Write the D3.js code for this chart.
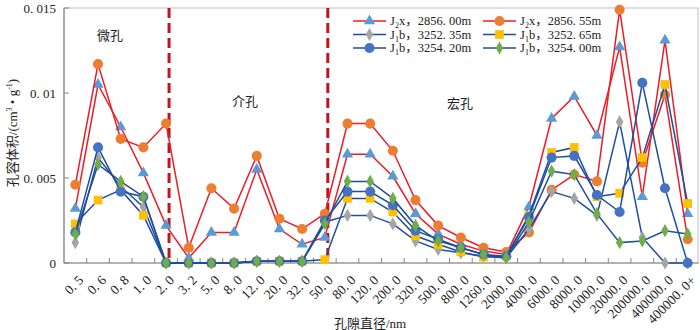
<!DOCTYPE html>
<html>
<head>
<meta charset="utf-8">
<script src="https://cdn.jsdelivr.net/npm/d3@7"></script>
<style>
  body { margin: 0; background: #fff; }
  svg text { font-family: "Liberation Serif", "Noto Sans CJK SC", serif; fill: #222; }
</style>
</head>
<body>
<div id="chart"></div>
<script>
// pore size classes (nm)
var categories = ["0.5", "0.6", "0.8", "1.0", "2.0", "3.2", "5.0", "8.0", "12.0", "20.0",
  "32.0", "50.0", "80.0", "120.0", "200.0", "320.0", "500.0", "800.0", "1260.0", "2000.0",
  "4000.0", "6000.0", "8000.0", "10000.0", "20000.0", "200000.0", "400000.0", "400000.0+"];

// pore volume, cm3/g
var j2x_285600 = [0.0032, 0.0105, 0.0080, 0.0053, 0.0022, 0.0003, 0.0018, 0.0018, 0.0055, 0.0020,
  0.0011, 0.0015, 0.0064, 0.0064, 0.0051, 0.0029, 0.0017, 0.0011, 0.0007, 0.0005,
  0.0033, 0.0085, 0.0098, 0.0075, 0.0127, 0.0039, 0.0131, 0.0029];
var j2x_285655 = [0.0046, 0.0117, 0.0073, 0.0068, 0.0082, 0.0009, 0.0044, 0.0032, 0.0063, 0.0026,
  0.0020, 0.0029, 0.0082, 0.0082, 0.0066, 0.0037, 0.0022, 0.0015, 0.0009, 0.00065,
  0.0018, 0.0043, 0.0052, 0.0048, 0.0149, 0.0059, 0.0099, 0.0014];
var j1b_325235 = [0.0012, 0.0062, 0.0045, 0.0033, 0, 0, 0, 0, 0.0001, 0.0001,
  0.0001, 0.0024, 0.0028, 0.0028, 0.0023, 0.0013, 0.0008, 0.0006, 0.0004, 0.0003,
  0.0020, 0.0042, 0.0038, 0.0028, 0.0083, 0.0015, 0, 0];
var j1b_325265 = [0.0023, 0.0037, 0.0043, 0.0028, 0, 0, 0, 0, 0.0001, 0.0001,
  0.0001, 0.0002, 0.0038, 0.0038, 0.0030, 0.0016, 0.0011, 0.00065, 0.00035, 0.0004,
  0.0028, 0.0065, 0.0068, 0.0039, 0.0041, 0.0062, 0.0105, 0.0035];
var j1b_325420 = [0.0018, 0.0068, 0.0042, 0.0039, 0, 0, 0, 0, 0.0001, 0.0001,
  0.0001, 0.0025, 0.0042, 0.0042, 0.0034, 0.0019, 0.0014, 0.0009, 0.0005, 0.0004,
  0.0027, 0.0062, 0.0063, 0.0040, 0.0030, 0.0106, 0.0044, 0];
var j1b_325400 = [0.0017, 0.0058, 0.0048, 0.0039, 0, 0, 0, 0, 0.0001, 0.0001,
  0.0001, 0.0023, 0.0048, 0.0048, 0.0038, 0.0022, 0.0013, 0.0009, 0.0005, 0.0003,
  0.0024, 0.0054, 0.0052, 0.0029, 0.0012, 0.0013, 0.0019, 0.0017];

var yTicks = [0, 0.005, 0.01, 0.015];
var yTickLabels = ["0", "0. 005", "0. 01", "0. 015"];

// series table for drawing (well, name, depth, values, line colour, marker)
var series = [
  { well: "2", letter: "x", depth: "2856. 00m", values: j2x_285600, line: "#ee1c25", fill: "#5b9bd5", shape: d3.symbolTriangle, size: 55 },
  { well: "2", letter: "x", depth: "2856. 55m", values: j2x_285655, line: "#ee1c25", fill: "#ed7d31", shape: d3.symbolCircle, size: 80 },
  { well: "1", letter: "b", depth: "3252. 35m", values: j1b_325235, line: "#1f4e9f", fill: "#a5a5a5", shape: d3.symbolDiamond, size: 50 },
  { well: "1", letter: "b", depth: "3252. 65m", values: j1b_325265, line: "#1f4e9f", fill: "#ffc000", shape: d3.symbolSquare, size: 75 },
  { well: "1", letter: "b", depth: "3254. 20m", values: j1b_325420, line: "#1f4e9f", fill: "#4472c4", shape: d3.symbolCircle, size: 80 },
  { well: "1", letter: "b", depth: "3254. 00m", values: j1b_325400, line: "#1f4e9f", fill: "#70ad47", shape: d3.symbolDiamond, size: 50 }
];

var width = 700, height = 330;
var plot = { left: 64, right: 699, top: 8, bottom: 263 };

var svg = d3.select("#chart").append("svg")
  .attr("width", width)
  .attr("height", height);

var x = d3.scaleBand().domain(categories).range([plot.left, plot.right]);
var cx = function(c) { return x(c) + x.bandwidth() / 2; };
var y = d3.scaleLinear().domain([0, 0.015]).range([plot.bottom, plot.top]);

// plot frame
svg.append("rect")
  .attr("x", plot.left).attr("y", plot.top)
  .attr("width", plot.right - 1 - plot.left).attr("height", plot.bottom - plot.top)
  .attr("fill", "none").attr("stroke", "#bdbdbd");

// y axis
var yAxis = svg.append("g");
yAxis.append("line")
  .attr("x1", plot.left).attr("x2", plot.left)
  .attr("y1", plot.top).attr("y2", plot.bottom)
  .attr("stroke", "#868686").attr("stroke-width", 1.2);
yAxis.selectAll("line.tick").data(yTicks).enter().append("line")
  .attr("class", "tick")
  .attr("x1", plot.left).attr("x2", plot.left + 5)
  .attr("y1", d => y(d)).attr("y2", d => y(d))
  .attr("stroke", "#868686");
yAxis.selectAll("text").data(yTicks).enter().append("text")
  .attr("x", plot.left - 8).attr("y", d => y(d))
  .attr("dy", "0.35em")
  .attr("text-anchor", "end")
  .attr("font-size", 13)
  .text((d, i) => yTickLabels[i]);

// x axis
var xAxis = svg.append("g");
xAxis.append("line")
  .attr("x1", plot.left).attr("x2", plot.right)
  .attr("y1", plot.bottom).attr("y2", plot.bottom)
  .attr("stroke", "#868686").attr("stroke-width", 1.2);
xAxis.selectAll("line.tick").data(categories.slice(1)).enter().append("line")
  .attr("class", "tick")
  .attr("x1", d => x(d)).attr("x2", d => x(d))
  .attr("y1", plot.bottom).attr("y2", plot.bottom - 5)
  .attr("stroke", "#868686");
xAxis.selectAll("text").data(categories).enter().append("text")
  .attr("transform", d => "translate(" + (cx(d) + 9) + "," + (plot.bottom + 18) + ") rotate(-45)")
  .attr("text-anchor", "end")
  .attr("font-size", 13.5)
  .text(d => d.replace(".", ". "));

// dashed boundaries between micro / meso / macro pores
svg.selectAll("line.bound").data(["2.0", "50.0"]).enter().append("line")
  .attr("class", "bound")
  .attr("x1", d => cx(d) + 3).attr("x2", d => cx(d) + 3)
  .attr("y1", plot.top).attr("y2", plot.bottom)
  .attr("stroke", "#c0151c").attr("stroke-width", 3)
  .attr("stroke-dasharray", "10,5");

// region labels
var regions = [["微孔", 110, 35], ["介孔", 245, 101], ["宏孔", 460, 103]];
svg.selectAll("text.region").data(regions).enter().append("text")
  .attr("class", "region")
  .attr("x", d => d[1]).attr("y", d => d[2])
  .attr("dy", "0.35em")
  .attr("text-anchor", "middle")
  .attr("font-size", 13)
  .style("font-family", "'Noto Sans CJK SC'")
  .text(d => d[0]);

// series
var line = d3.line()
  .x((d, i) => cx(categories[i]))
  .y(d => y(d));

series.forEach(function(s) {
  var g = svg.append("g");
  g.append("path")
    .attr("d", line(s.values))
    .attr("fill", "none")
    .attr("stroke", s.line)
    .attr("stroke-width", 1.5);
  g.selectAll("path.mk").data(s.values).enter().append("path")
    .attr("class", "mk")
    .attr("transform", (d, i) => "translate(" + cx(categories[i]) + "," + y(d) + ")")
    .attr("d", d3.symbol().type(s.shape).size(s.size))
    .attr("fill", s.fill);
});

// legend, two columns filled row by row
var legend = svg.append("g");
series.forEach(function(s, i) {
  var lx = 353 + (i % 2) * 130;
  var ly = 21 + Math.floor(i / 2) * 13.5;
  var item = legend.append("g").attr("transform", "translate(" + lx + "," + ly + ")");
  item.append("line")
    .attr("x1", 0).attr("x2", 33)
    .attr("stroke", s.line).attr("stroke-width", 1.5);
  item.append("path")
    .attr("transform", "translate(16.5,0)")
    .attr("d", d3.symbol().type(s.shape).size(s.size))
    .attr("fill", s.fill);
  var t = item.append("text")
    .attr("x", 37).attr("dy", "0.35em")
    .attr("font-size", 12.5);
  t.append("tspan").text("J");
  t.append("tspan").attr("font-size", 8).attr("dy", 3).text(s.well);
  t.append("tspan").attr("dy", -3).text(s.letter + "，" + s.depth);
});

// axis titles
svg.append("text")
  .attr("x", 370).attr("y", 323)
  .attr("dy", "0.35em")
  .attr("text-anchor", "middle")
  .attr("font-size", 13)
  .text("孔隙直径/nm");

var yt = svg.append("text")
  .attr("transform", "translate(12,133) rotate(-90)")
  .attr("dy", "0.35em")
  .attr("text-anchor", "middle")
  .attr("font-size", 13);
yt.append("tspan").text("孔容体积/(cm");
yt.append("tspan").attr("font-size", 8).attr("dy", -5).text("3");
yt.append("tspan").attr("dy", 5).text(" • g");
yt.append("tspan").attr("font-size", 8).attr("dy", -5).text("-1");
yt.append("tspan").attr("dy", 5).text(")");
</script>
</body>
</html>
